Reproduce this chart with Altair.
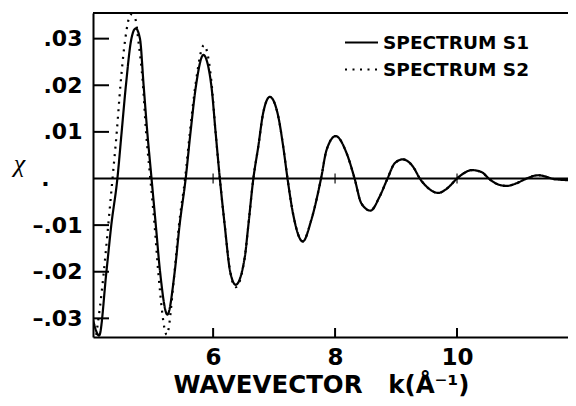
import altair as alt
import pandas as pd

# ---- data ----
series_names = ["SPECTRUM S1", "SPECTRUM S2"]

k_s1 = [4.03, 4.13, 4.25, 4.33, 4.43, 4.50, 4.57, 4.66, 4.73, 4.80, 4.86, 4.92,
        4.99, 5.06, 5.13, 5.25, 5.37, 5.45, 5.55, 5.63, 5.72, 5.84, 5.97, 6.04,
        6.11, 6.19, 6.28, 6.37, 6.52, 6.57, 6.66, 6.74, 6.82, 6.93, 7.07, 7.15,
        7.22, 7.31, 7.47, 7.61, 7.77, 7.86, 8.01, 8.19, 8.32, 8.43, 8.58, 8.73,
        8.86, 8.98, 9.11, 9.28, 9.39, 9.54, 9.69, 9.85, 10.00, 10.12, 10.24,
        10.40, 10.52, 10.66, 10.81, 10.98, 11.14, 11.33, 11.63, 11.95]
chi_s1 = [-0.0303, -0.0337, -0.020, -0.010, 0.0, 0.010, 0.020, 0.030, 0.0322,
          0.030, 0.020, 0.010, 0.0, -0.010, -0.020, -0.0292, -0.020, -0.010,
          0.0, 0.010, 0.020, 0.0265, 0.020, 0.010, 0.0, -0.010, -0.020, -0.0228,
          -0.0168, -0.011, 0.0, 0.0068, 0.014, 0.0175, 0.0132, 0.0068, 0.0,
          -0.0075, -0.0135, -0.0089, 0.0, 0.0061, 0.0091, 0.0054, 0.0, -0.0053,
          -0.0069, -0.0039, 0.0, 0.0033, 0.0041, 0.0025, 0.0, -0.0022, -0.0031,
          -0.0020, 0.0, 0.0012, 0.0018, 0.0014, 0.0, -0.0012, -0.0016, -0.0010,
          0.0, 0.0007, -0.0002, -0.0004]

k_s2 = [4.03, 4.08, 4.14, 4.20, 4.28, 4.35, 4.42, 4.48, 4.56, 4.65, 4.73, 4.77,
        4.85, 4.90, 4.97, 5.04, 5.10, 5.24, 5.36, 5.44, 5.54, 5.62, 5.71, 5.85,
        5.97, 6.04, 6.11, 6.19, 6.28, 6.37, 6.52, 6.57, 6.66, 6.74, 6.82, 6.93,
        7.07, 7.15, 7.22, 7.31, 7.47, 7.61, 7.77, 7.86, 8.01, 8.19, 8.32, 8.43,
        8.58, 8.73, 8.86, 8.98, 9.11, 9.28, 9.39, 9.54, 9.69, 9.85, 10.00, 10.12,
        10.24, 10.40, 10.52, 10.66, 10.81, 10.98, 11.14, 11.33, 11.63, 11.95]
chi_s2 = [-0.040, -0.034, -0.028, -0.021, -0.010, 0.0, 0.010, 0.020, 0.030,
          0.0352, 0.034, 0.030, 0.020, 0.010, 0.0, -0.010, -0.020, -0.0335,
          -0.021, -0.010, 0.0, 0.010, 0.020, 0.0286, 0.021, 0.010, 0.0, -0.010,
          -0.020, -0.0233, -0.0168, -0.011, 0.0, 0.0068, 0.014, 0.0175, 0.0132,
          0.0068, 0.0, -0.0075, -0.0135, -0.0089, 0.0, 0.0061, 0.0091, 0.0054,
          0.0, -0.0053, -0.0069, -0.0039, 0.0, 0.0033, 0.0041, 0.0025, 0.0,
          -0.0022, -0.0031, -0.0020, 0.0, 0.0012, 0.0018, 0.0014, 0.0, -0.0012,
          -0.0016, -0.0010, 0.0, 0.0007, -0.0002, -0.0004]

x_ticks = [6, 8, 10]
y_ticks = [-0.03, -0.02, -0.01, 0.0, 0.01, 0.02, 0.03]
x_domain = [4.03, 11.82]
y_domain = [-0.034, 0.0355]

# ---- tables ----
curves = pd.DataFrame({
    "series": [series_names[0]] * len(k_s1) + [series_names[1]] * len(k_s2),
    "k": k_s1 + k_s2,
    "chi": chi_s1 + chi_s2,
})
ytick_df = pd.DataFrame({"v": [v for v in y_ticks if v != 0]})
xtick_df = pd.DataFrame({"v": x_ticks, "zero": [0.0] * len(x_ticks)})
zero_df = pd.DataFrame({"zero": [0.0]})

BOLD = "DejaVu Sans"
xs = alt.Scale(domain=x_domain, nice=False, zero=False)
ys = alt.Scale(domain=y_domain, nice=False, zero=False)

y_label_expr = ("datum.value == 0 ? '.' : "
                "(datum.value < 0 ? '\u2013' : '') + "
                "replace(format(abs(datum.value), '.2f'), '0.', '.')")

x_axis = alt.Axis(
    values=x_ticks, ticks=False, tickSize=0, grid=False,
    domainColor="black", domainWidth=2,
    labelFont=BOLD, labelFontWeight="bold", labelFontSize=23,
    labelColor="black", labelPadding=9, labelFlush=False,
    title="WAVEVECTOR\u00a0\u00a0\u00a0k(\u00c5\u207b\u00b9)",
    titleFont=BOLD, titleFontWeight="bold", titleFontSize=24.5,
    titleColor="black", titleX=228, titleY=55, titleAlign="center",
    titleBaseline="alphabetic")

y_axis = alt.Axis(
    values=y_ticks, ticks=False, tickSize=0, grid=False,
    domainColor="black", domainWidth=2,
    labelExpr=y_label_expr, labelOverlap=False,
    labelFont=BOLD, labelFontWeight="bold", labelFontSize=22,
    labelColor="black",
    labelPadding={"condition": {"test": "datum.value == 0", "value": 44},
                  "value": 11},
    title="\u03c7", titleFont="Liberation Serif", titleFontStyle="italic",
    titleFontWeight="normal", titleFontSize=26, titleColor="black",
    titleAngle=0, titleX=-74, titleY=150, titleAlign="center",
    titleBaseline="middle")

lines = alt.Chart(curves).mark_line(
    clip=True, color="black", strokeWidth=2.2, interpolate="monotone"
).encode(
    x=alt.X("k:Q", scale=xs, axis=x_axis),
    y=alt.Y("chi:Q", scale=ys, axis=y_axis),
    strokeDash=alt.StrokeDash("series:N", scale=alt.Scale(
        domain=series_names, range=[[1, 0], [2, 5.5]]),
        legend=alt.Legend(
            title=None, orient="none", legendX=251, legendY=12, padding=0,
            symbolType="stroke", symbolSize=1089, symbolStrokeWidth=2,
            symbolStrokeColor="black", labelFont=BOLD, labelFontWeight="bold",
            labelFontSize=18.5, labelColor="black", labelOffset=4,
            rowPadding=-10)),
)

zero_line = alt.Chart(zero_df).mark_rule(color="black", strokeWidth=1.8).encode(
    y=alt.Y("zero:Q", scale=ys, axis=y_axis))

zero_ticks = alt.Chart(xtick_df).mark_tick(
    orient="vertical", color="black", size=10, thickness=1.6).encode(
    x=alt.X("v:Q", scale=xs, axis=x_axis),
    y=alt.Y("zero:Q", scale=ys, axis=y_axis))

y_inner_ticks = alt.Chart(ytick_df).mark_rule(color="black", strokeWidth=2).encode(
    y=alt.Y("v:Q", scale=ys, axis=y_axis), x=alt.value(0), x2=alt.value(16))

x_inner_ticks = alt.Chart(xtick_df).mark_rule(color="black", strokeWidth=2).encode(
    x=alt.X("v:Q", scale=xs, axis=x_axis), y=alt.value(324), y2=alt.value(315))

top_border = alt.Chart(zero_df).mark_rule(color="black", strokeWidth=2).encode(
    y=alt.value(0))

chart = alt.layer(
    lines, zero_line, zero_ticks, y_inner_ticks, x_inner_ticks, top_border
).properties(
    width=475, height=324,
    autosize=alt.AutoSizeParams(type="none"),
    padding={"left": 85, "top": 5, "right": 0, "bottom": 61},
    background="white",
).configure_view(stroke=None)

chart.save("out.html", embed_options={"renderer": "svg", "actions": False})
